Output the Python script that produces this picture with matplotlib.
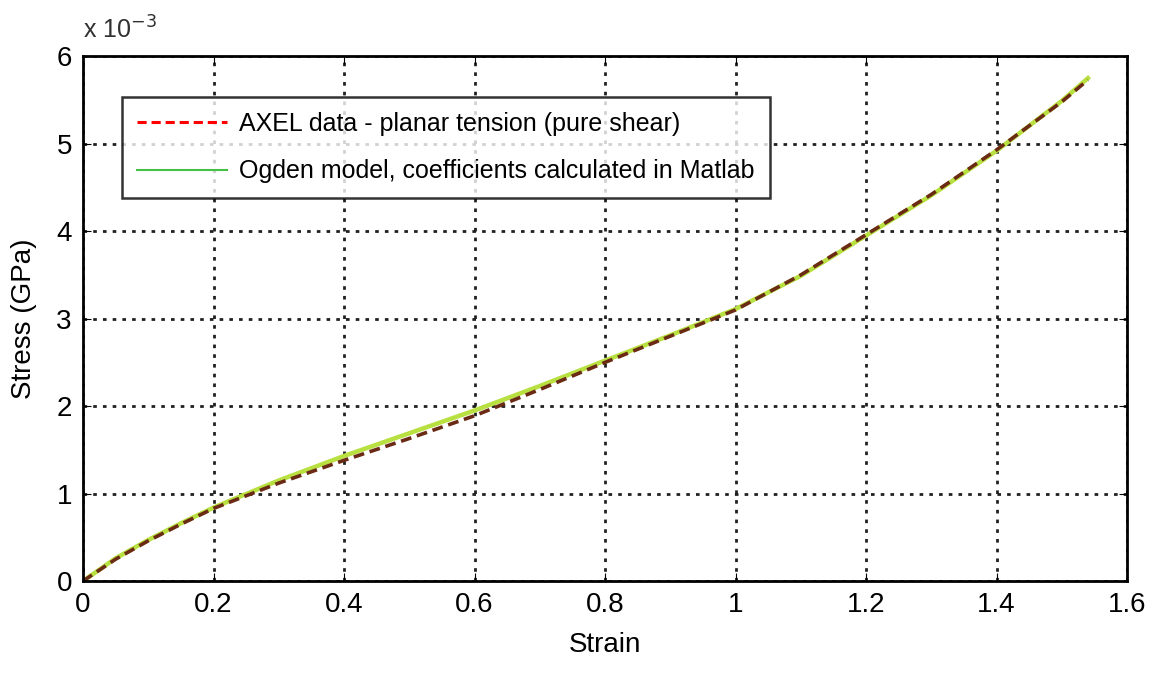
import matplotlib
matplotlib.use('Agg')
import matplotlib.pyplot as plt
import numpy as np

matplotlib.rcParams['font.family'] = 'Liberation Sans'

# AXEL planar tension data (strain, stress in GPa)
strain_axel = [0.0, 0.05, 0.1, 0.15, 0.2, 0.3, 0.4, 0.5, 0.6, 0.7, 0.8, 0.9, 1.0,
               1.1, 1.2, 1.3, 1.4, 1.5, 1.54]
stress_axel = [0.0, 0.25e-3, 0.46e-3, 0.65e-3, 0.83e-3, 1.12e-3, 1.38e-3, 1.63e-3,
               1.89e-3, 2.19e-3, 2.5e-3, 2.8e-3, 3.1e-3, 3.5e-3, 3.96e-3, 4.42e-3,
               4.93e-3, 5.48e-3, 5.73e-3]

# Ogden model fit
strain_ogden = [0.0, 0.05, 0.1, 0.15, 0.2, 0.3, 0.4, 0.5, 0.6, 0.7, 0.8, 0.9, 1.0,
                1.1, 1.2, 1.3, 1.4, 1.5, 1.54]
stress_ogden = [0.0, 0.26e-3, 0.47e-3, 0.66e-3, 0.84e-3, 1.15e-3, 1.43e-3, 1.69e-3,
                1.95e-3, 2.23e-3, 2.52e-3, 2.81e-3, 3.11e-3, 3.49e-3, 3.95e-3, 4.41e-3,
                4.92e-3, 5.49e-3, 5.75e-3]

xticks = [0, 0.2, 0.4, 0.6, 0.8, 1.0, 1.2, 1.4, 1.6]
xticklabels = ['0', '0.2', '0.4', '0.6', '0.8', '1', '1.2', '1.4', '1.6']
yticks = [0, 1e-3, 2e-3, 3e-3, 4e-3, 5e-3, 6e-3]
yticklabels = ['0', '1', '2', '3', '4', '5', '6']

fig = plt.figure(figsize=(11.56, 6.78), dpi=100)
ax = fig.add_axes([0.0718, 0.143, 0.9032, 0.774])

ax.plot(strain_ogden, stress_ogden, color='#b8e040', lw=3.2,
        label='Ogden model, coefficients calculated in Matlab')
ax.plot(strain_axel, stress_axel, color='#6a2a14', lw=2.6, ls=(0, (3, 1.6)),
        label='AXEL data - planar tension (pure shear)')

ax.set_xlim(0, 1.6)
ax.set_ylim(0, 6e-3)
ax.set_xticks(xticks)
ax.set_xticklabels(xticklabels)
ax.set_yticks(yticks)
ax.set_yticklabels(yticklabels)
ax.tick_params(direction='in', top=True, right=True, labelsize=20, length=6, pad=8)
ax.grid(True, color='#202020', ls=(0, (1.3, 2.2)), lw=2.0)
for sp in ax.spines.values():
    sp.set_linewidth(2.0)

ax.set_xlabel('Strain', fontsize=20, labelpad=10)
ax.set_ylabel('Stress (GPa)', fontsize=20, labelpad=14)
ax.text(0.0, 1.025, r'x 10$^{-3}$', transform=ax.transAxes, fontsize=18,
        ha='left', va='bottom', color='#303030')

# legend order: data first, then model
h, l = ax.get_legend_handles_labels()
leg = ax.legend([h[1], h[0]], [l[1], l[0]], loc='upper left',
                bbox_to_anchor=(0.037, 0.923), fontsize=18, frameon=True,
                fancybox=False, edgecolor='black', handlelength=3.6,
                borderpad=0.6, labelspacing=0.95, handletextpad=0.5,
                borderaxespad=0)
leg.get_frame().set_linewidth(1.8)
leg.legend_handles[1].set_color('#44c044')
leg.legend_handles[1].set_linewidth(1.5)
leg.legend_handles[0].set_color('red')
leg.legend_handles[0].set_linewidth(2.2)

plt.savefig('out.png', dpi=100)
